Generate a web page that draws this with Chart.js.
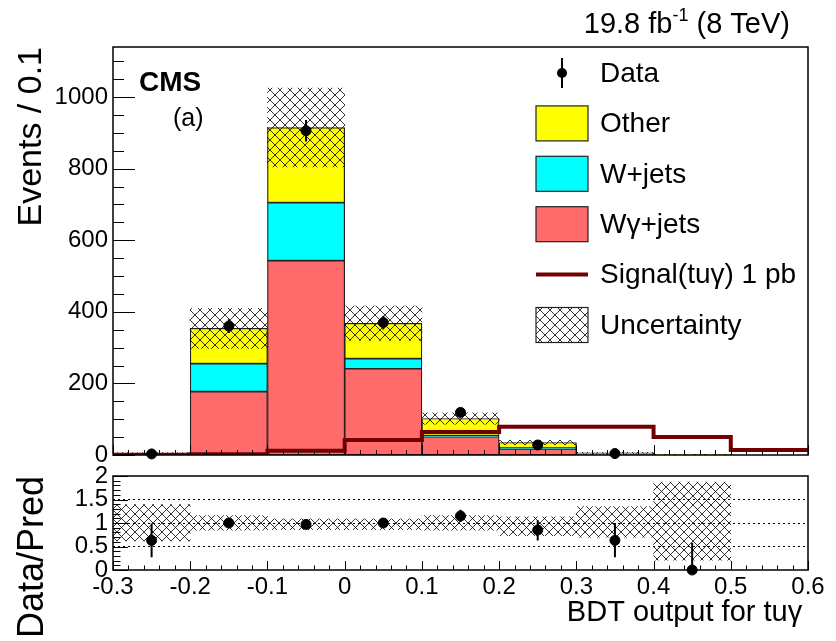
<!DOCTYPE html>
<html>
<head>
<meta charset="utf-8">
<script src="https://cdn.jsdelivr.net/npm/chart.js@4.4.1/dist/chart.umd.min.js"></script>
<style>
  body { margin: 0; background: #fff; }
  #wrap { position: relative; width: 836px; height: 641px; overflow: hidden; }
  canvas { position: absolute; left: 0; }
</style>
</head>
<body>
<div id="wrap">
  <canvas id="mainChart" width="836" height="470" style="top:0"></canvas>
  <canvas id="ratioChart" width="836" height="181" style="top:460px"></canvas>
</div>
<script>
// binning (BDT output)
const binCenters = [-0.25, -0.15, -0.05, 0.05, 0.15, 0.25, 0.35, 0.45, 0.55];
const binEdges = [-0.3, -0.2, -0.1, 0, 0.1, 0.2, 0.3, 0.4, 0.5, 0.6];

// backgrounds (events / 0.1)
const wgammaJets = [3, 177, 543, 241, 51, 17, 3, 0.6, 0];
const wJets = [0.7, 78, 162, 28, 3, 2, 1, 0.2, 0];
const otherBkg = [1, 99, 210, 99, 48, 16, 2, 0.3, 0];
const bkgUnc = [1.8, 56, 110, 48, 16, 6, 1.8, 0.85, 0];

// signal tu-gamma, 1 pb
const signalTUG = [1, 2, 12, 42, 64, 79, 79, 50, 14];

// data
const dataCounts = [3, 360, 906, 370, 119, 28, 4, 0, 0];
const dataErr = [1.7, 19, 30, 19, 11, 5.3, 2, 0, 0];

// ratio panel (Data/Pred)
const ratioVals = [0.63, 1.00, 0.97, 1.00, 1.15, 0.85, 0.63, 0];
const ratioErrLo = [0.27, 0.95, 0.92, 0.95, 1.02, 0.63, 0.27, 0];
const ratioErrHi = [0.99, 1.06, 1.02, 1.05, 1.28, 1.06, 1.00, 0.58];
const ratioBandLo = [0.62, 0.85, 0.86, 0.86, 0.85, 0.73, 0.70, 0.21];
const ratioBandHi = [1.39, 1.16, 1.09, 1.09, 1.16, 1.13, 1.35, 1.87];

// tick labels
const yTicksMain = [0, 200, 400, 600, 800, 1000];
const yTicksRatio = [0, 0.5, 1, 1.5, 2];

const fontFam = '"Liberation Sans", Arial, Helvetica, sans-serif';
const colOther = '#ffff00';
const colWjets = '#00ffff';
const colWgamma = '#ff6a6a';
const colSignal = '#720000';

function makeHatch(size, lw) {
    const c = document.createElement('canvas');
    c.width = size; c.height = size;
    const g = c.getContext('2d');
    g.strokeStyle = '#000';
    g.lineWidth = lw;
    g.beginPath();
    g.moveTo(0, 0); g.lineTo(size, size);
    g.moveTo(size, 0); g.lineTo(0, size);
    g.stroke();
    return g.createPattern(c, 'repeat');
}

// error bars as broken line segments
function errSegments(xs, lo, hi) {
    const pts = [];
    xs.forEach((x, i) => {
        if (lo[i] == null) return;
        pts.push({x: x, y: lo[i]}, {x: x, y: hi[i]}, {x: x, y: null});
    });
    return pts;
}

// fixed axis box, no label overhang
const fixWidth = w => s => { s.width = w; s.paddingTop = 0; s.paddingBottom = 0; };

// frame + inward ticks, ROOT style
const rootFrame = {
    id: 'rootFrame',
    afterDatasetsDraw(chart, args, o) {
        const {ctx, chartArea: a} = chart;
        const x = chart.scales.x, y = chart.scales.y;
        ctx.save();
        ctx.strokeStyle = '#000';
        ctx.lineWidth = 1;
        ctx.beginPath();
        let n = Math.floor((x.max - x.min) / o.xMinor + 1e-6);
        for (let i = 0; i <= n; i++) {
            const v = x.min + i * o.xMinor;
            const major = i % o.xEvery === 0;
            const px = Math.round(x.getPixelForValue(v)) + 0.5;
            ctx.moveTo(px, a.bottom);
            ctx.lineTo(px, a.bottom - (major ? o.xLen : o.xLen / 2));
        }
        n = Math.floor((y.max - y.min) / o.yMinor + 1e-6);
        for (let i = 0; i <= n; i++) {
            const v = y.min + i * o.yMinor;
            const major = i % o.yEvery === 0;
            const py = Math.round(y.getPixelForValue(v)) + 0.5;
            ctx.moveTo(a.left, py);
            ctx.lineTo(a.left + (major ? o.yLen : o.yLen / 2), py);
        }
        ctx.stroke();
        ctx.lineWidth = 1.5;
        ctx.strokeRect(a.left, a.top, a.right - a.left, a.bottom - a.top);
        ctx.restore();
    }
};

// lumi label, CMS label and legend
const cmsLabels = {
    id: 'cmsLabels',
    afterDraw(chart) {
        const ctx = chart.ctx;
        ctx.save();
        ctx.fillStyle = '#000';
        ctx.textBaseline = 'alphabetic';

        const big = '29px ' + fontFam, small = '18px ' + fontFam;
        ctx.font = big;
        const w1 = ctx.measureText('19.8 fb').width;
        const w3 = ctx.measureText(' (8 TeV)').width;
        ctx.font = small;
        const w2 = ctx.measureText('-1').width;
        let xs = 790 - (w1 + w2 + w3);
        ctx.font = big; ctx.fillText('19.8 fb', xs, 33);
        ctx.font = small; ctx.fillText('-1', xs + w1, 21);
        ctx.font = big; ctx.fillText(' (8 TeV)', xs + w1 + w2, 33);

        ctx.font = 'bold 28px ' + fontFam;
        ctx.fillText('CMS', 139, 91);
        ctx.font = '25px ' + fontFam;
        ctx.fillText('(a)', 173, 126);

        // legend
        const ds = chart.data.datasets;
        const byLabel = l => ds.find(d => d.label === l);
        const rows = ['Data', 'Other', 'W+jets', 'W\u03b3+jets', 'Signal(tu\u03b3) 1 pb', 'Uncertainty'];
        const boxL = 536, boxW = 52, boxH = 35, textX = 600;
        rows.forEach((lab, i) => {
            const cy = 73 + i * 50.4;
            const d = byLabel(lab);
            if (lab === 'Data') {
                ctx.strokeStyle = '#000'; ctx.lineWidth = 2;
                ctx.beginPath(); ctx.moveTo(562, cy - 15); ctx.lineTo(562, cy + 15); ctx.stroke();
                ctx.beginPath(); ctx.arc(562, cy, 5, 0, Math.PI * 2); ctx.fill();
            } else if (d.type === 'line') {
                ctx.strokeStyle = d.borderColor; ctx.lineWidth = 4;
                ctx.beginPath(); ctx.moveTo(boxL, cy); ctx.lineTo(boxL + boxW, cy); ctx.stroke();
            } else {
                ctx.fillStyle = d.backgroundColor;
                ctx.fillRect(boxL, cy - boxH / 2, boxW, boxH);
                ctx.strokeStyle = '#222'; ctx.lineWidth = 1.2;
                ctx.strokeRect(boxL, cy - boxH / 2, boxW, boxH);
            }
            ctx.fillStyle = '#000';
            ctx.font = '28px ' + fontFam;
            ctx.textBaseline = 'middle';
            ctx.fillText(lab, textX, cy + 1);
            ctx.textBaseline = 'alphabetic';
        });
        ctx.restore();
    }
};

// cumulative stack as floating bars
const cumWg = wgammaJets.map(v => v);
const cumWj = wJets.map((v, i) => cumWg[i] + v);
const cumAll = otherBkg.map((v, i) => cumWj[i] + v);

const barPts = (lo, hi) => lo
    .map((v, i) => ({x: binCenters[i], y: [lo[i], hi[i]]}))
    .filter(p => p.y[1] > p.y[0]);

const dataIdx = binCenters.map((c, i) => i).filter(i => dataCounts[i] > 0);
const dataPts = dataIdx.map(i => ({x: binCenters[i], y: dataCounts[i]}));
const dataErrPts = errSegments(
    dataIdx.map(i => binCenters[i]),
    dataIdx.map(i => dataCounts[i] - dataErr[i]),
    dataIdx.map(i => dataCounts[i] + dataErr[i]));

const sigPts = binEdges.map((e, i) => ({x: e, y: signalTUG[Math.min(i, signalTUG.length - 1)]}));

const hatchMain = makeHatch(10, 0.8);
const hatchRatio = makeHatch(9, 0.8);

const barCommon = {stack: 'bkg', barPercentage: 1, categoryPercentage: 1, borderSkipped: false};

new Chart(document.getElementById('mainChart'), {
    type: 'bar',
    data: {
        datasets: [
            {type: 'scatter', label: 'Data', data: dataPts, backgroundColor: '#000', borderColor: '#000',
                pointRadius: 5, pointHoverRadius: 5, order: 0, clip: false},
            {type: 'line', label: 'dataErr', data: dataErrPts, borderColor: '#000', borderWidth: 2,
                pointRadius: 0, spanGaps: false, order: 1},
            {type: 'line', label: 'Signal(tu\u03b3) 1 pb', data: sigPts, borderColor: colSignal, borderWidth: 4,
                pointRadius: 0, stepped: true, fill: false, order: 2},
            Object.assign({label: 'Uncertainty', data: barPts(cumAll.map((v, i) => v - bkgUnc[i]), cumAll.map((v, i) => v + bkgUnc[i])),
                backgroundColor: hatchMain, borderWidth: 0, order: 3}, barCommon),
            Object.assign({label: 'Other', data: barPts(cumWj, cumAll), backgroundColor: colOther,
                borderColor: '#222', borderWidth: 1.2, order: 4}, barCommon),
            Object.assign({label: 'W+jets', data: barPts(cumWg, cumWj), backgroundColor: colWjets,
                borderColor: '#222', borderWidth: 1.2, order: 5}, barCommon),
            Object.assign({label: 'W\u03b3+jets', data: barPts(wgammaJets.map(() => 0), cumWg), backgroundColor: colWgamma,
                borderColor: '#222', borderWidth: 1.2, order: 6}, barCommon)
        ]
    },
    options: {
        responsive: false,
        animation: false,
        layout: {padding: {top: 47, right: 28, bottom: 15, left: 0}},
        plugins: {
            legend: {display: false},
            tooltip: {enabled: false},
            rootFrame: {xMinor: 0.02, xEvery: 5, xLen: 10, yMinor: 50, yEvery: 4, yLen: 22}
        },
        scales: {
            x: {
                type: 'linear', min: -0.3, max: 0.6, display: false, offset: false, stacked: true,
                afterBuildTicks: s => { s.ticks = binEdges.map(v => ({value: v})); }
            },
            y: {
                min: 0, max: 1140, stacked: false,
                afterBuildTicks: s => { s.ticks = yTicksMain.map(v => ({value: v})); },
                ticks: {color: '#000', font: {family: fontFam, size: 24}, padding: 5, autoSkip: false,
                    callback: v => String(v)},
                grid: {display: false, drawTicks: false},
                border: {display: false},
                title: {display: true, text: 'Events / 0.1', align: 'end', color: '#000',
                    font: {family: fontFam, size: 34}, padding: {top: 11, bottom: 0}},
                afterFit: fixWidth(113)
            }
        }
    },
    plugins: [rootFrame, cmsLabels]
});

const ratioCenters = binCenters.slice(0, ratioVals.length);

new Chart(document.getElementById('ratioChart'), {
    type: 'bar',
    data: {
        datasets: [
            {type: 'scatter', label: 'ratio', data: ratioCenters.map((c, i) => ({x: c, y: ratioVals[i]})),
                backgroundColor: '#000', borderColor: '#000', pointRadius: 5, pointHoverRadius: 5, order: 0, clip: false},
            {type: 'line', label: 'ratioErr', data: errSegments(ratioCenters, ratioErrLo, ratioErrHi),
                borderColor: '#000', borderWidth: 2, pointRadius: 0, spanGaps: false, order: 1},
            Object.assign({label: 'band', data: barPts(ratioBandLo, ratioBandHi),
                backgroundColor: hatchRatio, borderWidth: 0, order: 2}, barCommon)
        ]
    },
    options: {
        responsive: false,
        animation: false,
        layout: {padding: {top: 16, right: 28, bottom: 0, left: 0}},
        plugins: {
            legend: {display: false},
            tooltip: {enabled: false},
            rootFrame: {xMinor: 0.02, xEvery: 5, xLen: 9, yMinor: 0.1, yEvery: 5, yLen: 15}
        },
        scales: {
            x: {
                type: 'linear', min: -0.3, max: 0.6, offset: false, stacked: true,
                afterBuildTicks: s => { s.ticks = binEdges.map(v => ({value: v})); },
                ticks: {color: '#000', font: {family: fontFam, size: 24}, padding: 3,
                    autoSkip: false, maxRotation: 0,
                    callback: v => String(Number(v.toFixed(1)))},
                grid: {display: false, drawTicks: false},
                border: {display: false},
                title: {display: true, text: 'BDT output for tu\u03b3\u2009', align: 'end', color: '#000',
                    font: {family: fontFam, size: 29}, padding: {top: 0, bottom: 11}},
                afterFit: s => { s.height = 71; s.paddingLeft = 0; s.paddingRight = 0; }
            },
            y: {
                min: 0, max: 2, stacked: false,
                afterBuildTicks: s => { s.ticks = yTicksRatio.map(v => ({value: v})); },
                ticks: {color: '#000', font: {family: fontFam, size: 24}, padding: 5, autoSkip: false,
                    callback: v => String(v)},
                grid: {drawTicks: false, lineWidth: 1,
                    color: c => (c.tick && c.tick.value > 0 && c.tick.value < 2) ? '#000' : 'rgba(0,0,0,0)'},
                border: {display: false, dash: [2, 3]},
                title: {display: true, text: 'Data/Pred', align: 'end', color: '#000',
                    font: {family: fontFam, size: 36}, padding: {top: 11, bottom: 0}},
                afterFit: fixWidth(113)
            }
        }
    },
    plugins: [rootFrame]
});
</script>
</body>
</html>
